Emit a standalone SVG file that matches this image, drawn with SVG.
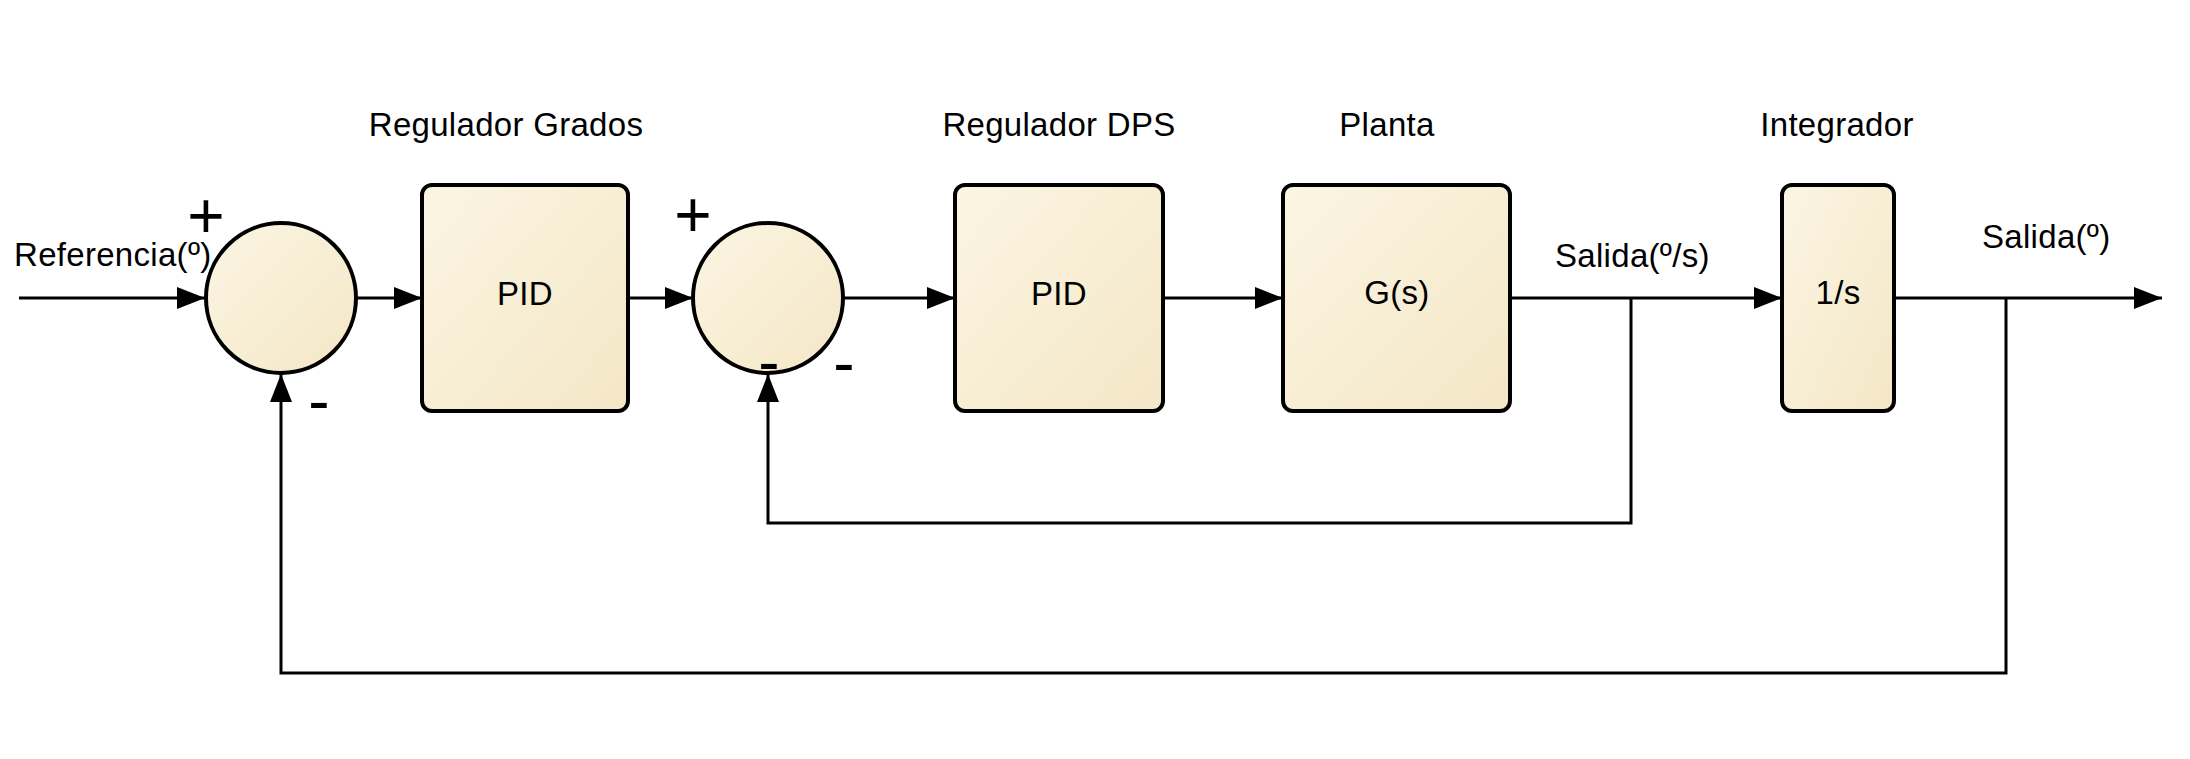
<svg xmlns="http://www.w3.org/2000/svg" width="2190" height="759" viewBox="0 0 2190 759">
  <defs>
    <linearGradient id="cream" x1="0" y1="0" x2="1" y2="1">
      <stop offset="0" stop-color="#fbf5e3"/>
      <stop offset="1" stop-color="#f4e7c6"/>
    </linearGradient>
    <marker id="arrow" markerUnits="userSpaceOnUse" markerWidth="28" markerHeight="22" refX="28" refY="11" orient="auto">
      <path d="M0,0 L28,11 L0,22 Z" fill="#000"/>
    </marker>
    <style>
      .blk { fill: url(#cream); stroke: #000; stroke-width: 4; }
      .sum { fill: url(#cream); stroke: #000; stroke-width: 4; }
      .conn { fill: none; stroke: #000; stroke-width: 3; }
      .arr { marker-end: url(#arrow); }
      .lbl { font-family: "Liberation Sans", Arial, sans-serif; font-size: 33px; letter-spacing: 0.3px; fill: #000; }
      .mid { text-anchor: middle; }
      .sign { font-family: "Liberation Sans", Arial, sans-serif; font-size: 64px; fill: #000; text-anchor: middle; }
    </style>
  </defs>
  <rect width="2190" height="759" fill="#fff"/>

  <g id="connectors">
    <line class="conn arr" x1="19" y1="298" x2="205" y2="298"/>
    <line class="conn arr" x1="357" y1="298" x2="422" y2="298"/>
    <line class="conn arr" x1="628" y1="298" x2="693" y2="298"/>
    <line class="conn arr" x1="843" y1="298" x2="955" y2="298"/>
    <line class="conn arr" x1="1163" y1="298" x2="1283" y2="298"/>
    <line class="conn arr" x1="1510" y1="298" x2="1782" y2="298"/>
    <line class="conn arr" x1="1894" y1="298" x2="2162" y2="298"/>
    <polyline class="conn arr" points="1631,298 1631,523 768,523 768,374"/>
    <polyline class="conn arr" points="2006,298 2006,673 281,673 281,374"/>
  </g>

  <g id="sum1">
    <circle class="sum" cx="281" cy="298" r="75"/>
    <text class="sign" x="206" y="238">+</text>
    <text class="sign" x="319" y="423">-</text>
  </g>

  <g id="reg-grados">
    <rect class="blk" x="422" y="185" width="206" height="226" rx="10"/>
    <text class="lbl mid" x="525" y="305">PID</text>
    <text class="lbl mid" x="506" y="136">Regulador Grados</text>
  </g>

  <g id="sum2">
    <circle class="sum" cx="768" cy="298" r="75"/>
    <text class="sign" x="693" y="237">+</text>
    <text class="sign" x="769" y="384">-</text>
    <text class="sign" x="844" y="385">-</text>
  </g>

  <g id="reg-dps">
    <rect class="blk" x="955" y="185" width="208" height="226" rx="10"/>
    <text class="lbl mid" x="1059" y="305">PID</text>
    <text class="lbl mid" x="1059" y="136">Regulador DPS</text>
  </g>

  <g id="planta">
    <rect class="blk" x="1283" y="185" width="227" height="226" rx="10"/>
    <text class="lbl mid" x="1397" y="304">G(s)</text>
    <text class="lbl mid" x="1387" y="136">Planta</text>
  </g>

  <g id="integrador">
    <rect class="blk" x="1782" y="185" width="112" height="226" rx="10"/>
    <text class="lbl mid" x="1838" y="304">1/s</text>
    <text class="lbl mid" x="1837" y="136">Integrador</text>
  </g>

  <g id="signal-labels">
    <text class="lbl" x="14" y="266">Referencia(º)</text>
    <text class="lbl" x="1555" y="267">Salida(º/s)</text>
    <text class="lbl" x="1982" y="248">Salida(º)</text>
  </g>
</svg>
